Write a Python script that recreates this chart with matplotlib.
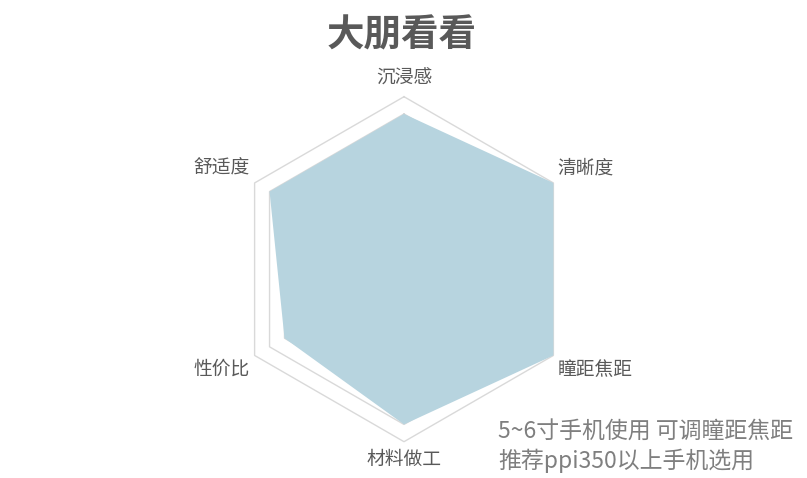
import numpy as np
import matplotlib
matplotlib.use("Agg")
import matplotlib.pyplot as plt

plt.rcParams['font.family'] = ['Noto Sans CJK SC', 'DejaVu Sans']

title = "大朋看看"
categories = ["沉浸感", "清晰度", "瞳距焦距", "材料做工", "性价比", "舒适度"]
values = [9, 10, 10, 9, 8, 9]
r_max = 10
grid_levels = list(range(1, 11))
note_lines = ["5~6寸手机使用 可调瞳距焦距", "推荐ppi350以上手机选用"]

fill_color = "#b7d4df"
grid_color = "#d9d9d9"
text_color = "#595959"

W, H = 807, 478
fig = plt.figure(figsize=(W / 100, H / 100), dpi=100)
fig.patch.set_facecolor("white")

cx, cy, R = 404, 269.2, 172.5
ax = fig.add_axes([(cx - R) / W, (H - cy - R) / H, 2 * R / W, 2 * R / H], projection="polar")
ax.set_theta_zero_location("N")
ax.set_theta_direction(-1)
ax.set_ylim(0, r_max)
ax.grid(False)
ax.spines["polar"].set_visible(False)
ax.set_xticks([])
ax.set_yticks([])
ax.patch.set_alpha(0)

n = len(categories)
theta = np.linspace(0, 2 * np.pi, n, endpoint=False)
theta_c = np.append(theta, theta[0])

for lvl in grid_levels:
    ax.plot(theta_c, [lvl] * (n + 1), color=grid_color, lw=1.0, zorder=1, clip_on=False)

vals_c = np.append(values, values[0])
ax.fill(theta_c, vals_c, color=fill_color, zorder=2, lw=0)

offsets = [(0, 19, "center"), (4, 15, "left"), (4, -14, "left"),
           (0, -18, "center"), (-5, -14, "right"), (-5, 15, "right")]
for t, lab, (dx, dy, ha) in zip(theta, categories, offsets):
    ax.annotate(lab, xy=(t, r_max), xytext=(dx, dy), textcoords="offset pixels",
                ha=ha, va="center", fontsize=13.5, color=text_color,
                annotation_clip=False)

fig.text(402 / W, 1 - 35 / H, title, ha="center", va="center", fontsize=27,
         fontweight="bold", color=text_color)

fig.text(498 / W, 1 - 432 / H, note_lines[0], ha="left", va="center", fontsize=16.5, color="#7f7f7f")
fig.text(498 / W, 1 - 461 / H, note_lines[1], ha="left", va="center", fontsize=16.5, color="#7f7f7f")

fig.savefig("out.png", dpi=100, facecolor="white")
